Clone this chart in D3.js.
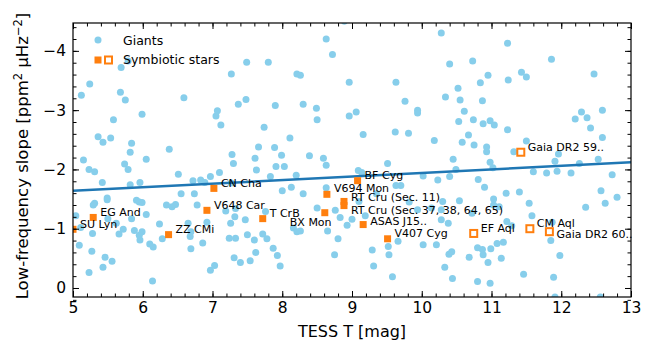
<!DOCTYPE html>
<html>
<head>
<meta charset="utf-8">
<script src="https://cdn.jsdelivr.net/npm/d3@7"></script>
<style>
  body { margin: 0; background: #fff; }
  text { font-family: "DejaVu Sans", sans-serif; fill: #000; }
</style>
</head>
<body>
<div id="chart"></div>
<script>
// giants: TESS magnitude and low-frequency slope
const giantT = [5.79,5.69,7.49,5.24,5.12,5.68,5.75,7.27,6.59,7.37,7.48,7.07,7.05,5.99,5.58,8.89,8.63,8.72,7.80,8.21,
  8.26,8.96,9.63,10.28,10.40,7.90,8.30,8.49,8.96,9.06,9.76,9.94,9.94,10.34,8.50,11.23,10.73,11.86,11.43,11.50,
  10.95,11.24,10.84,12.47,10.52,10.55,10.87,10.61,12.59,12.29,12.20,12.37,10.74,10.98,10.53,7.12,5.36,5.43,5.54,5.84,
  5.82,5.15,6.38,6.05,5.74,5.79,5.23,5.31,6.51,5.42,5.82,5.96,6.72,6.83,6.89,6.97,7.10,7.28,7.30,7.66,
  7.61,7.63,7.27,6.55,5.49,5.49,5.91,5.95,5.99,5.31,5.29,6.74,6.78,6.34,6.42,6.47,6.05,5.84,5.04,5.50,
  5.62,6.24,6.65,6.92,7.19,7.33,7.32,7.47,7.26,5.11,5.72,5.88,5.99,5.66,5.28,5.95,5.96,6.69,6.68,6.28,
  6.86,7.24,7.33,7.50,7.60,5.09,6.10,6.15,6.69,5.27,7.62,5.46,5.43,5.56,7.31,7.40,7.54,5.23,7.03,6.97,
  6.14,7.74,9.16,9.62,9.81,10.18,8.11,7.89,7.99,7.91,8.03,8.39,8.59,8.63,8.20,7.83,9.51,9.09,9.14,9.70,
  9.63,10.02,10.23,8.00,8.13,8.30,8.63,7.76,8.50,8.76,9.10,9.35,9.00,8.83,8.93,9.19,9.82,9.94,10.14,10.28,
  10.30,10.28,10.38,8.16,8.21,8.26,8.65,7.72,7.78,8.80,9.66,7.87,7.93,7.97,8.75,9.29,9.52,9.53,10.02,10.21,
  9.31,9.58,10.33,10.39,10.88,11.04,11.23,10.67,10.58,10.75,10.93,10.93,12.42,12.59,11.32,11.50,11.96,11.91,10.45,10.98,
  11.02,11.60,11.79,11.94,12.14,12.26,12.53,12.73,10.49,10.40,10.81,10.90,11.21,11.40,12.57,12.80,12.63,12.35,11.54,11.03,
  11.03,11.11,10.54,10.72,11.58,11.22,11.29,11.87,11.08,11.17,11.85,10.80,10.87,10.99,10.88,10.95,11.14,10.43,10.68,11.98,
  11.46,11.89,10.44,10.80,10.98,11.91,12.56];
const giantSlope = [-3.83,-3.72,-3.81,-3.44,-3.25,-3.30,-3.17,-3.61,-3.21,-3.10,-3.18,-2.99,-2.90,-2.93,-2.84,-4.50,-4.20,-3.94,-3.81,-3.61,
  -3.59,-3.47,-3.47,-4.30,-3.78,-3.08,-3.10,-3.03,-2.90,-2.97,-3.15,-3.00,-2.95,-3.22,-2.84,-4.13,-3.83,-3.86,-3.64,-3.56,
  -3.59,-3.51,-3.46,-3.61,-3.37,-3.17,-3.16,-2.98,-3.00,-2.97,-2.85,-2.87,-2.84,-2.82,-2.81,-2.75,-2.55,-2.46,-2.53,-2.44,
  -2.29,-2.16,-2.34,-2.17,-2.09,-2.00,-2.00,-1.96,-1.92,-1.78,-1.74,-1.78,-1.81,-1.82,-1.78,-1.88,-1.95,-2.25,-2.10,-2.38,
  -2.19,-1.99,-1.77,-1.59,-1.52,-1.49,-1.48,-1.45,-1.44,-1.43,-1.40,-1.59,-1.40,-1.40,-1.37,-1.41,-1.24,-1.17,-1.22,-1.17,
  -1.09,-1.08,-1.09,-1.11,-1.30,-1.34,-1.20,-1.15,-1.09,-1.02,-0.99,-0.97,-0.95,-0.91,-0.92,-0.89,-0.81,-0.95,-0.87,-0.83,
  -0.76,-0.84,-0.84,-0.90,-0.81,-0.72,-0.74,-0.69,-0.66,-0.62,-0.60,-0.52,-0.35,-0.45,-0.51,-0.43,-0.46,-0.26,-0.38,-0.30,
  -0.12,-2.71,-2.59,-2.63,-2.61,-2.49,-2.53,-2.37,-2.24,-2.05,-2.05,-2.23,-2.19,-2.07,-1.90,-1.88,-2.10,-1.98,-1.95,-1.73,
  -1.73,-1.89,-1.82,-1.64,-1.70,-1.59,-1.69,-1.29,-1.35,-1.31,-1.46,-1.59,-1.16,-1.19,-1.06,-1.22,-1.45,-1.32,-1.35,-1.32,
  -1.46,-1.15,-1.09,-1.01,-0.95,-0.96,-0.96,-0.91,-0.83,-0.83,-0.79,-0.67,-0.55,-0.37,-0.56,-0.64,-0.70,-0.56,-0.73,-0.73,
  -0.37,-0.19,-0.35,-0.57,-2.77,-2.75,-2.67,-2.58,-2.46,-2.41,-2.38,-2.30,-2.70,-2.54,-2.30,-2.48,-2.26,-2.14,-2.17,-2.12,
  -2.03,-1.96,-1.94,-1.97,-1.94,-2.10,-2.17,-1.91,-2.00,-1.88,-1.83,-1.70,-1.60,-1.62,-1.64,-1.53,-1.43,-1.36,-1.43,-1.50,
  -1.40,-1.37,-1.47,-1.26,-1.22,-1.12,-1.05,-1.11,-0.75,-0.77,-0.80,-0.68,-0.65,-0.66,-0.56,-0.43,-0.50,-0.61,-0.52,-0.55,
  -0.23,-0.18,-0.16,-0.11,-0.08,0.15,0.15];

// symbiotic stars
const symbNames = ["SU Lyn","EG And","ZZ CMi","CN Cha","V648 Car","T CrB","BX Mon","V694 Mon",
  "RT Cru (Sec. 11)","RT Cru (Sec. 37, 38, 64, 65)","BF Cyg","ASAS J15..","V407 Cyg",
  "Gaia DR2 59..","EF Aql","CM Aql","Gaia DR2 60.."];
const symbT = [5.00,5.29,6.37,7.02,6.92,7.72,8.61,8.64,8.885,8.885,9.08,9.16,9.51,11.42,10.745,11.55,11.83];
const symbSlope = [-0.99,-1.19,-0.90,-1.68,-1.31,-1.17,-1.27,-1.58,-1.46,-1.39,-1.81,-1.07,-0.83,-2.29,-0.92,-1.00,-0.95];
const symbOpen = [false,false,false,false,false,false,false,false,false,false,false,false,false,true,true,true,true];

// linear fit through the giants
const fitT = [5, 13];
const fitSlope = [-1.64, -2.12];

const xTicks = [5,6,7,8,9,10,11,12,13];
const yTicks = [0,-1,-2,-3,-4];

const w = 653, h = 354;
const mLeft = 73, mRight = 631, mTop = 23, mBottom = 297;
const blue = "#87ceeb", orange = "#ff7f0e";

// label offsets (px) from each marker
const labelDx = symbNames.map(n => n === "BX Mon" ? -35 : 7);
const labelDy = symbNames.map(n => {
  if (n === "BX Mon") return 10;
  if (n === "RT Cru (Sec. 37, 38, 64, 65)") return 5;
  if (n === "Gaia DR2 60..") return 3;
  if (n === "RT Cru (Sec. 11)") return -4;
  if (n === "V694 Mon") return -6;
  if (n === "ASAS J15..") return -3.5;
  return -5;
});

const xScale = d3.scaleLinear().domain([5, 13]).range([mLeft, mRight]);
const yScale = d3.scaleLinear().domain([0.152, -4.47]).range([mBottom, mTop]);

const svg = d3.select("#chart").append("svg")
  .attr("width", w)
  .attr("height", h);

svg.append("clipPath").attr("id", "clip")
  .append("rect")
  .attr("x", mLeft).attr("y", mTop)
  .attr("width", mRight - mLeft).attr("height", mBottom - mTop);

const plot = svg.append("g").attr("clip-path", "url(#clip)");

// giants
plot.selectAll("circle.giant")
  .data(giantT.map((t, i) => [t, giantSlope[i]]))
  .enter()
  .append("circle")
  .attr("class", "giant")
  .attr("cx", d => xScale(d[0]))
  .attr("cy", d => yScale(d[1]))
  .attr("r", 3.5)
  .attr("fill", blue);

// fit line
plot.append("path")
  .datum(fitT.map((t, i) => [t, fitSlope[i]]))
  .attr("d", d3.line().x(d => xScale(d[0])).y(d => yScale(d[1])))
  .attr("stroke", "#1f77b4")
  .attr("stroke-width", 2.5)
  .attr("fill", "none");

// symbiotic stars
const symb = symbNames.map((n, i) => ({name: n, t: symbT[i], s: symbSlope[i], open: symbOpen[i], dx: labelDx[i], dy: labelDy[i]}));
const sq = 7;
plot.selectAll("rect.symb")
  .data(symb)
  .enter()
  .append("rect")
  .attr("class", "symb")
  .attr("x", d => xScale(d.t) - sq / 2)
  .attr("y", d => yScale(d.s) - sq / 2)
  .attr("width", sq)
  .attr("height", sq)
  .attr("fill", d => d.open ? "#fff" : orange)
  .attr("stroke", d => d.open ? orange : "none")
  .attr("stroke-width", 2);

svg.selectAll("text.lab")
  .data(symb)
  .enter()
  .append("text")
  .attr("class", "lab")
  .attr("x", d => xScale(d.t) + d.dx)
  .attr("y", d => yScale(d.s) + d.dy)
  .attr("dominant-baseline", "central")
  .style("font-size", "11px")
  .text(d => d.name);

// AXES (ticks pointing inward on all sides)
function minorVals(a, b) {
  const v = [];
  for (let k = Math.round(a * 5); k <= Math.round(b * 5); k++) v.push(k / 5);
  return v;
}
const xMinor = minorVals(5, 13);
const yMinor = minorVals(-4.4, 0.1);

function addAxis(axis, transform, cls) {
  const g = svg.append("g").attr("transform", transform).attr("class", cls).call(axis);
  g.select(".domain").remove();
  g.selectAll(".tick line").attr("stroke", "#000").attr("stroke-width", 1);
  return g;
}

const xb = addAxis(d3.axisBottom(xScale).tickValues(xTicks).tickSize(-6).tickSizeOuter(0).tickPadding(5).tickFormat(d3.format("d")),
  `translate(0,${mBottom})`, "x-axis");
addAxis(d3.axisBottom(xScale).tickValues(xMinor).tickSize(-3.5).tickSizeOuter(0).tickFormat(""), `translate(0,${mBottom})`, "x-minor");
addAxis(d3.axisTop(xScale).tickValues(xTicks).tickSize(-6).tickSizeOuter(0).tickFormat(""), `translate(0,${mTop})`, "x-top");
addAxis(d3.axisTop(xScale).tickValues(xMinor).tickSize(-3.5).tickSizeOuter(0).tickFormat(""), `translate(0,${mTop})`, "x-top-minor");

const yl = addAxis(d3.axisLeft(yScale).tickValues(yTicks).tickSize(-6).tickSizeOuter(0).tickPadding(7).tickFormat(d3.format("d")),
  `translate(${mLeft},0)`, "y-axis");
addAxis(d3.axisLeft(yScale).tickValues(yMinor).tickSize(-3.5).tickSizeOuter(0).tickFormat(""), `translate(${mLeft},0)`, "y-minor");
addAxis(d3.axisRight(yScale).tickValues(yTicks).tickSize(-6).tickSizeOuter(0).tickFormat(""), `translate(${mRight},0)`, "y-right");
addAxis(d3.axisRight(yScale).tickValues(yMinor).tickSize(-3.5).tickSizeOuter(0).tickFormat(""), `translate(${mRight},0)`, "y-right-minor");

xb.selectAll("text").style("font-size", "15.5px").style("font-family", "DejaVu Sans");
yl.selectAll("text").style("font-size", "15.5px").style("font-family", "DejaVu Sans");

// frame
svg.append("rect")
  .attr("x", mLeft).attr("y", mTop)
  .attr("width", mRight - mLeft).attr("height", mBottom - mTop)
  .attr("fill", "none")
  .attr("stroke", "#000")
  .attr("stroke-width", 1.2);

// axis labels
svg.append("text")
  .attr("x", (mLeft + mRight) / 2)
  .attr("y", 337)
  .attr("text-anchor", "middle")
  .style("font-size", "16px")
  .text("TESS T [mag]");

const yLab = svg.append("text")
  .attr("transform", `translate(28,${(mTop + mBottom) / 2 - 4}) rotate(-90)`)
  .attr("text-anchor", "middle")
  .style("font-size", "16.5px");
yLab.append("tspan").text("Low-frequency slope [ppm");
yLab.append("tspan").attr("dy", -6).style("font-size", "11.5px").text("2");
yLab.append("tspan").attr("dy", 6).text(" μHz");
yLab.append("tspan").attr("dy", -6).style("font-size", "11.5px").text("−2");
yLab.append("tspan").attr("dy", 6).text("]");

// legend
const legend = svg.append("g");
legend.append("circle").attr("cx", 98).attr("cy", 40).attr("r", 3.5).attr("fill", blue);
legend.append("rect").attr("x", 98 - sq / 2).attr("y", 60 - sq / 2).attr("width", sq).attr("height", sq).attr("fill", orange);
legend.append("rect").attr("x", 108.5 - sq / 2).attr("y", 60 - sq / 2).attr("width", sq).attr("height", sq)
  .attr("fill", "#fff").attr("stroke", orange).attr("stroke-width", 2);
legend.append("text").attr("x", 123).attr("y", 40).attr("dominant-baseline", "central").style("font-size", "12.5px").text("Giants");
legend.append("text").attr("x", 123).attr("y", 59).attr("dominant-baseline", "central").style("font-size", "12.5px").text("Symbiotic stars");
</script>
</body>
</html>
